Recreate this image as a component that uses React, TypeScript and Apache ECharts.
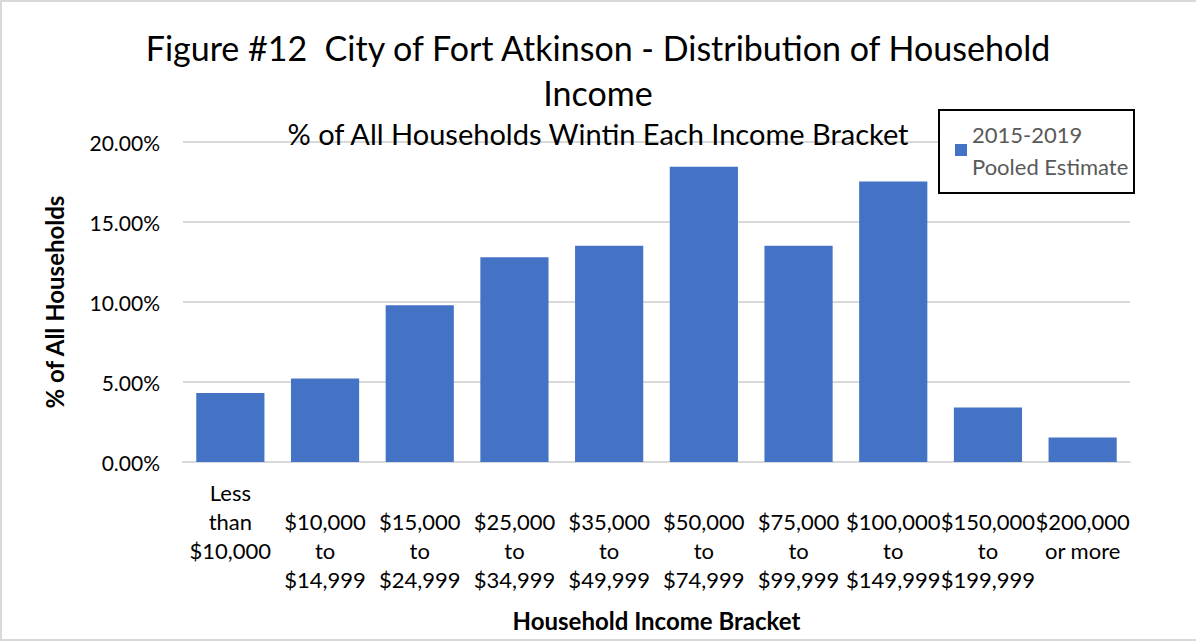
import React, { useEffect, useRef } from "react";
import * as echarts from "echarts";

const categories: string[] = [
  "Less\nthan\n$10,000\n",
  "\n$10,000\nto\n$14,999",
  "\n$15,000\nto\n$24,999",
  "\n$25,000\nto\n$34,999",
  "\n$35,000\nto\n$49,999",
  "\n$50,000\nto\n$74,999",
  "\n$75,000\nto\n$99,999",
  "\n$100,000\nto\n$149,999",
  "\n$150,000\nto\n$199,999",
  "\n$200,000\nor more\n",
];

const seriesName = "2015-2019 Pooled Estimate";
const values: number[] = [4.31, 5.22, 9.8, 12.8, 13.52, 18.45, 13.52, 17.53, 3.41, 1.53];

const yTicks = { min: 0, max: 20, interval: 5 };

const titleText = "Figure #12  City of Fort Atkinson - Distribution of Household\nIncome";
const subtitleText = "% of All Households Wintin Each Income Bracket";
const xName = "Household Income Bracket";
const yName = "% of All Households";

const FONT = "Lato, 'Open Sans', sans-serif";

export default function App() {
  const ref = useRef<HTMLDivElement>(null);
  useEffect(() => {
    if (!ref.current) return;
    const chart = echarts.init(ref.current, undefined, { renderer: "svg" });
    chart.setOption({
      animation: false,
      backgroundColor: "#ffffff",
      textStyle: { fontFamily: FONT },
      title: [
        {
          text: titleText,
          left: "center",
          top: 20,
          textStyle: { fontSize: 34, fontWeight: "normal", color: "#000", lineHeight: 45, fontFamily: FONT },
        },
        {
          text: subtitleText,
          left: "center",
          top: 109,
          textStyle: { fontSize: 29, fontWeight: "normal", color: "#000", lineHeight: 38, fontFamily: FONT },
        },
      ],
      legend: {
        show: true,
        data: [seriesName],
        left: 955,
        top: 102,
        padding: 0,
        z: 10,
        icon: "rect",
        itemWidth: 12,
        itemHeight: 12,
        selectedMode: false,
        formatter: () => "2015-2019\nPooled Estimate",
        textStyle: { fontSize: 22, color: "#595959", lineHeight: 32, padding: [32, 0, 0, 0], fontFamily: FONT },
      },
      graphic: [
        {
          type: "rect",
          z: 0,
          silent: true,
          shape: { x: 1, y: 1, width: 1300, height: 639 },
          style: { fill: "none", stroke: "#d9d9d9", lineWidth: 2 },
        },
        {
          type: "rect",
          z: 3,
          silent: true,
          shape: { x: 939, y: 110, width: 195, height: 83 },
          style: { fill: "#ffffff", stroke: "#000000", lineWidth: 2 },
        },
      ],
      grid: { left: 183, right: 66, top: 142, bottom: 180, containLabel: false },
      xAxis: {
        type: "category",
        data: categories,
        axisTick: { show: false },
        axisLine: { show: true, lineStyle: { color: "#d9d9d9", width: 2 } },
        axisLabel: {
          interval: 0,
          fontSize: 22,
          color: "#000",
          lineHeight: 29,
          margin: 16,
          fontFamily: FONT,
        },
        name: xName,
        nameLocation: "middle",
        nameGap: 146,
        nameTextStyle: { fontSize: 24, fontWeight: "bold", color: "#000", fontFamily: FONT },
      },
      yAxis: {
        type: "value",
        min: yTicks.min,
        max: yTicks.max,
        interval: yTicks.interval,
        axisLine: { show: false },
        axisTick: { show: false },
        splitLine: { lineStyle: { color: "#d9d9d9", width: 2 } },
        axisLabel: {
          fontSize: 21,
          color: "#000",
          margin: 23,
          fontFamily: FONT,
          formatter: (v: number) => v.toFixed(2) + "%",
        },
        name: yName,
        nameLocation: "middle",
        nameRotate: 90,
        nameGap: 117,
        nameTextStyle: { fontSize: 24, fontWeight: "bold", color: "#000", fontFamily: FONT },
      },
      series: [
        {
          name: seriesName,
          type: "bar",
          data: values,
          barCategoryGap: "28%",
          itemStyle: { color: "#4472C4" },
        },
      ],
    });
    return () => chart.dispose();
  }, []);
  return (
    <div
      ref={ref}
      style={{ position: "absolute", left: 0, top: 0, width: 1196, height: 642 }}
    />
  );
}
